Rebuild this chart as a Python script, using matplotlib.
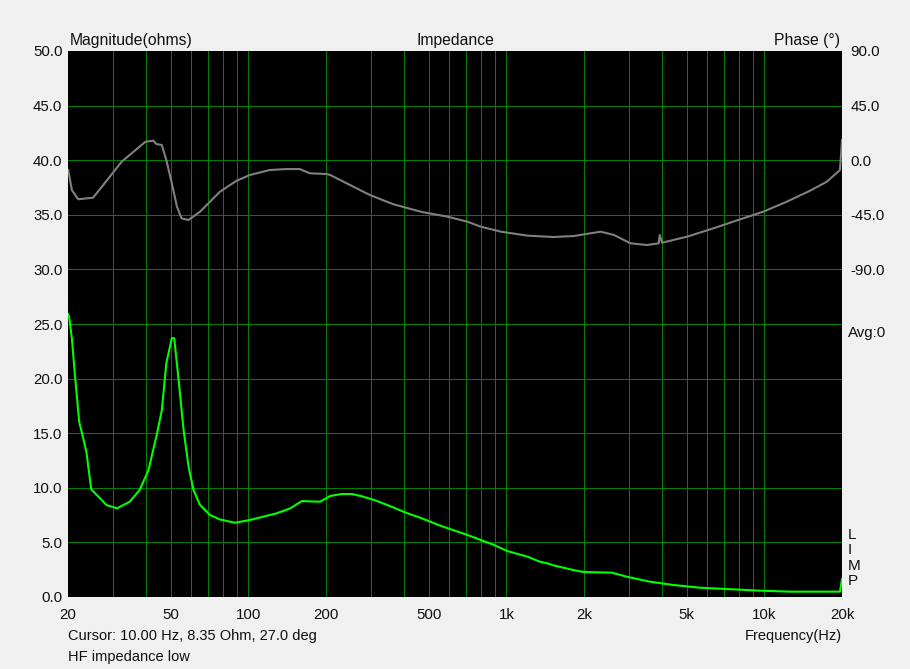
import matplotlib
matplotlib.use("Agg")
import matplotlib.pyplot as plt
from matplotlib.ticker import FixedLocator

plt.rcParams['font.family'] = ['Liberation Sans', 'DejaVu Sans']

# ---- data ----
mag_freq = [20.0, 20.2, 20.7, 21.3, 22.1, 22.9, 23.6, 24.6, 26.6, 28.2, 31.0, 34.7, 37.9, 41.0,
            44.3, 46.2, 48.1, 50.5, 51.6, 53.5, 56.1, 58.7, 61.3, 65.0, 71.1, 77.6, 88.7, 101.3,
            128.7, 145.4, 161.3, 175, 189.9, 207.7, 229.7, 252.5, 272.7, 307.9, 358.8, 404.8,
            470.8, 546.8, 608.5, 706.7, 796, 897, 1008, 1209, 1350, 1443, 1520, 1818, 1988,
            2562, 2928, 3606, 4438, 5632, 7148, 9622, 12574, 19640, 20000]
mag_ohm = [25.9, 25.7, 23.7, 20.2, 16.05, 14.56, 13.2, 9.86, 9.04, 8.42, 8.12, 8.73, 9.8, 11.6,
           15.0, 17.1, 21.4, 23.7, 23.7, 20.2, 15.3, 11.9, 9.8, 8.42, 7.5, 7.1, 6.8, 7.05,
           7.66, 8.12, 8.79, 8.75, 8.73, 9.25, 9.43, 9.43, 9.25, 8.88, 8.27, 7.75,
           7.2, 6.59, 6.2, 5.68, 5.22, 4.76, 4.21, 3.69, 3.23, 3.08, 2.90, 2.47, 2.29,
           2.23, 1.86, 1.40, 1.10, 0.85, 0.73, 0.58, 0.49, 0.49, 1.65]

ph_freq = [20.05, 20.7, 21.9, 25.0, 27.4, 32.3, 39.9, 42.9, 44.0, 46.2, 48.1, 50.5, 52.9, 55.1,
           58.6, 65.0, 77.6, 90.1, 101.3, 121.0, 140.4, 158.2, 173.3, 200.8, 207.7, 247.6,
           296.0, 364.5, 470.8, 591, 706.7, 796, 952, 1209, 1526, 1825, 2318, 2612, 3027,
           3510, 3895, 3930, 4015, 5024, 6357, 8065, 9910, 12220, 15060, 17470, 19640, 20000]
ph_deg = [-8.1, -24.6, -32.2, -30.9, -20.4, -1.2, 15.2, 16.1, 13.3, 12.5, 0.2, -19.0, -38.3, -47.9,
          -49.3, -42.4, -26.0, -16.9, -12.2, -8.1, -7.3, -7.3, -10.8, -11.4, -12.2, -20.4,
          -28.7, -36.3, -42.7, -46.5, -50.7, -54.8, -58.9, -62.2, -63.3, -62.5, -58.9, -61.6, -68.5,
          -69.9, -68.5, -61.6, -68.0, -63.0, -56.1, -48.7, -42.4, -34.2, -25.1, -17.7, -8.1, 16.6]

x_ticks = [20, 50, 100, 200, 500, 1000, 2000, 5000, 10000, 20000]
x_labels = ['20', '50', '100', '200', '500', '1k', '2k', '5k', '10k', '20k']
x_grid = [30, 40, 50, 60, 70, 80, 90, 100, 200, 300, 400, 500, 600, 700, 800, 900,
          1000, 2000, 3000, 4000, 5000, 6000, 7000, 8000, 9000, 10000]
mag_ticks = [0, 5, 10, 15, 20, 25, 30, 35, 40, 45, 50]
ph_ticks = [90, 45, 0, -45, -90]

# ---- figure ----
W, H = 910, 669
fig = plt.figure(figsize=(W / 100, H / 100), dpi=100, facecolor='#f0f0f0')
L, R, T, B = 68, 842, 51, 597
ax = fig.add_axes([L / W, 1 - B / H, (R - L) / W, (B - T) / H])
ax.set_facecolor('black')
ax.set_xscale('log')
ax.set_xlim(20, 20000)
ax.set_ylim(0, 50)
for s in ax.spines.values():
    s.set_visible(False)

grid_c = '#008000'
ax.xaxis.set_major_locator(FixedLocator(x_ticks))
ax.set_xticklabels(x_labels)
ax.xaxis.set_minor_locator(FixedLocator([]))
ax.set_yticks(mag_ticks)
ax.set_yticklabels([f'{v:.1f}' for v in mag_ticks])
for f in x_grid:
    ax.axvline(f, color=grid_c, lw=0.5, zorder=1, antialiased=False)
for v in mag_ticks[1:-1]:
    ax.axhline(v, color=grid_c, lw=0.5, zorder=1, antialiased=False)
ax.tick_params(which='both', length=0, labelsize=10.8, colors='#101010')
ax.tick_params(axis='y', pad=4)
ax.tick_params(axis='x', pad=8)

ax.plot(mag_freq, mag_ohm, color='#00ff00', lw=1.5, zorder=3)

ax2 = ax.twinx()
ax2.set_ylim(-360, 90)
ax2.set_xlim(20, 20000)
for s in ax2.spines.values():
    s.set_visible(False)
ax2.set_yticks(ph_ticks)
ax2.set_yticklabels([f'{v:.1f}' for v in ph_ticks])
ax2.tick_params(length=0, labelsize=10.8, colors='#101010', pad=6)
ax2.plot(ph_freq, ph_deg, color='#808080', lw=1.5, zorder=3)

def ftext(x, y, s, size=11.3, **kw):
    fig.text(x / W, 1 - y / H, s, fontsize=size, color='#101010', va='center', **kw)

ftext(70, 40, 'Magnitude(ohms)', ha='left')
ftext(455, 40, 'Impedance', ha='center')
ftext(840, 40, 'Phase (°)', ha='right')
ftext(848, 333, 'Avg:0', ha='left', size=10.8)
for i, ch in enumerate('LIMP'):
    ftext(848, 535 + i * 15.3, ch, ha='left', size=11)
ftext(68, 636, 'Cursor: 10.00 Hz, 8.35 Ohm, 27.0 deg', ha='left', size=10.5)
ftext(68, 657, 'HF impedance low', ha='left', size=10.5)
ftext(842, 636, 'Frequency(Hz)', ha='right', size=10.5)

fig.savefig('out.png', dpi=100, facecolor=fig.get_facecolor())
